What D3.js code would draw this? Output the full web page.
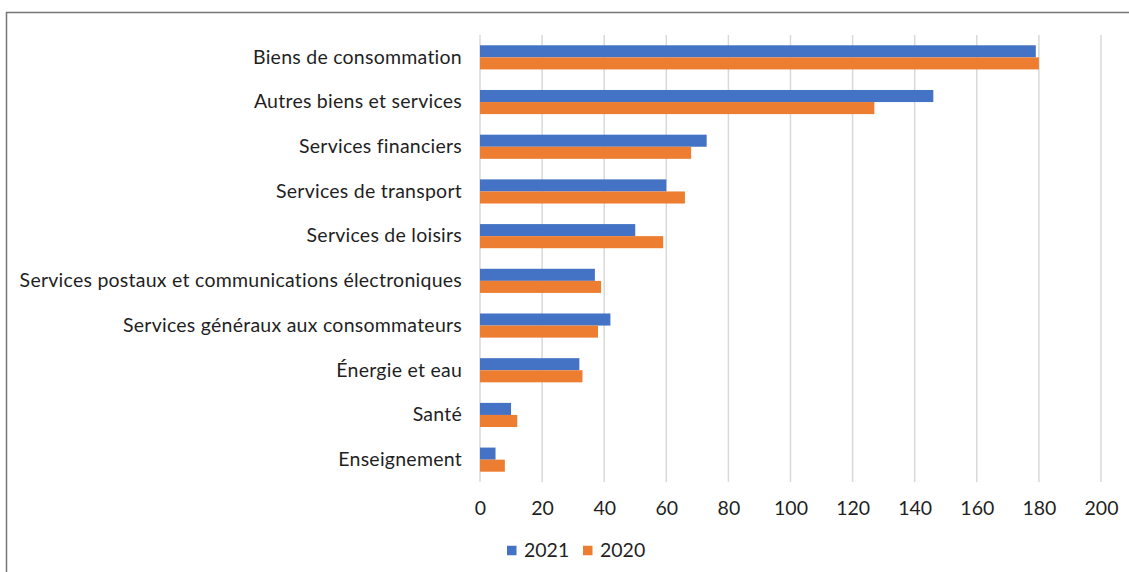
<!DOCTYPE html>
<html><head><meta charset="utf-8">
<script src="https://cdn.jsdelivr.net/npm/d3@7"></script>
<style>
html,body{margin:0;padding:0;background:#fff;}
svg{display:block;font-family:Lato,"Open Sans",sans-serif;}
</style></head>
<body>
<svg id="chart" width="1129" height="572"></svg>
<script>
const categories = ["Biens de consommation","Autres biens et services","Services financiers","Services de transport","Services de loisirs","Services postaux et communications électroniques","Services généraux aux consommateurs","Énergie et eau","Santé","Enseignement"];
const values2021 = [179,146,73,60,50,37,42,32,10,5];
const values2020 = [180,127,68,66,59,39,38,33,12,8];
const seriesNames = ["2021","2020"];
const tickValues = [0,20,40,60,80,100,120,140,160,180,200];
const colors = ["#4472C4","#ED7D31"];

const svg = d3.select("#chart");
// frame
svg.append("path").attr("d","M6.5,572 L6.5,12.5 L1129,12.5").attr("fill","none").attr("stroke","#767676").attr("stroke-width",1.5);

const x = d3.scaleLinear().domain([0,200]).range([480,1101]);
const y = d3.scaleBand().domain(categories).range([35,482]).paddingInner(0.46).paddingOuter(0.23);
const ys = d3.scaleBand().domain(seriesNames).range([0,y.bandwidth()]);

// gridlines
svg.append("g").selectAll("line").data(tickValues).join("line")
  .attr("x1",d=>x(d)).attr("x2",d=>x(d)).attr("y1",35).attr("y2",482)
  .attr("stroke","#d9d9d9").attr("stroke-width",1.5);

const data = categories.map((c,i)=>({cat:c, vals:[values2021[i],values2020[i]]}));
const g = svg.append("g").selectAll("g").data(data).join("g")
  .attr("transform",d=>`translate(0,${y(d.cat)})`);
g.selectAll("rect").data(d=>d.vals.map((v,j)=>({v,s:seriesNames[j],c:colors[j]}))).join("rect")
  .attr("x",x(0)).attr("y",d=>ys(d.s)).attr("width",d=>x(d.v)-x(0)).attr("height",ys.bandwidth())
  .attr("fill",d=>d.c);

// category labels
const yAxis = d3.axisLeft(y).tickSize(0).tickPadding(0);
const ya = svg.append("g").attr("transform","translate(462,0)").call(yAxis);
ya.select(".domain").remove();
ya.selectAll("text").attr("font-size",19.5).attr("letter-spacing","0.25px").attr("fill","#1f1f1f").attr("font-family","Lato, sans-serif");

// x axis
const xAxis = d3.axisBottom(x).tickValues(tickValues).tickSize(0).tickPadding(0);
const xa = svg.append("g").attr("transform","translate(0,501)").call(xAxis);
xa.select(".domain").remove();
xa.selectAll("text").attr("font-size",19.5).attr("fill","#1f1f1f").attr("font-family","Lato, sans-serif");

// legend
const legX = [507,583];
const leg = svg.append("g").selectAll("g").data(seriesNames).join("g")
  .attr("transform",(d,i)=>`translate(${legX[i]},550.5)`);
leg.append("rect").attr("x",0).attr("y",-4.75).attr("width",9.5).attr("height",9.5).attr("fill",(d,i)=>colors[i]);
leg.append("text").attr("x",17).attr("y",0).attr("dy","0.35em").attr("font-size",19.5).attr("fill","#1f1f1f").text(d=>d);
</script>
</body></html>
